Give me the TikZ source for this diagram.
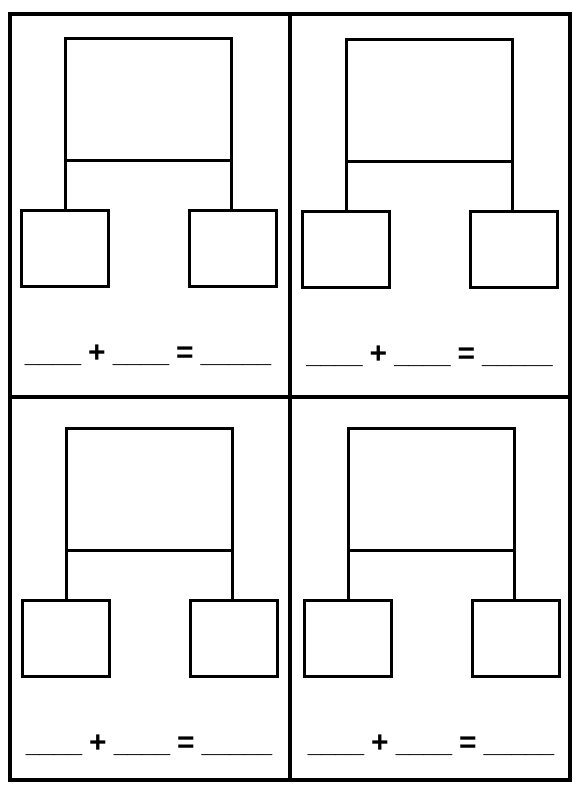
\documentclass[tikz,border=0pt]{standalone}
\usepackage{fontspec}
\setmainfont{Liberation Sans}
\newcommand\opsign[1]{{\fontsize{22.5}{22.5}\selectfont #1}}
\tikzset{
  wholebox/.style={draw, line width=2.25pt, inner sep=0pt, outer sep=0pt, minimum width=124.5pt, minimum height=91.5pt, anchor=north west},
  partbox/.style={draw, line width=2.25pt, inner sep=0pt, outer sep=0pt, minimum width=65.25pt, minimum height=57pt, anchor=north west},
  bond/.style={line width=2.25pt},
  sumline/.style={font=\fontsize{19}{19}\selectfont\bfseries, inner sep=0pt, anchor=base},
  frame/.style={line width=3pt}
}
\begin{document}
\begin{tikzpicture}[x=0.75pt,y=-0.75pt]
\useasboundingbox (0,0) rectangle (582,793);
\coordinate (nw) at (10,14);
\coordinate (se) at (570,780);
\coordinate (mid) at (290,397);
\draw[frame] (nw) rectangle (se);
\draw[frame] (mid |- nw) -- (mid |- se);
\draw[frame] (nw |- mid) -- (se |- mid);
\foreach \px/\py/\n in {65/38/a, 346.5/39.5/b, 66/428/c, 348/428.3/d} {
  \node[wholebox] (whole\n) at (\px,\py) {};
  \node[partbox] (partl\n) at (\px-44,\py+172) {};
  \node[partbox] (partr\n) at (\px+124,\py+172) {};
  \draw[bond] (whole\n.south west) -- (whole\n.south west |- partl\n.north);
  \draw[bond] (whole\n.south east) -- (whole\n.south east |- partr\n.north);
  \node[sumline] (sum\n) at (\px+83,\py+324) {\_\_\_\_ \opsign{+} \_\_\_\_ \opsign{=} \_\_\_\_\_};
}
\end{tikzpicture}
\end{document}
